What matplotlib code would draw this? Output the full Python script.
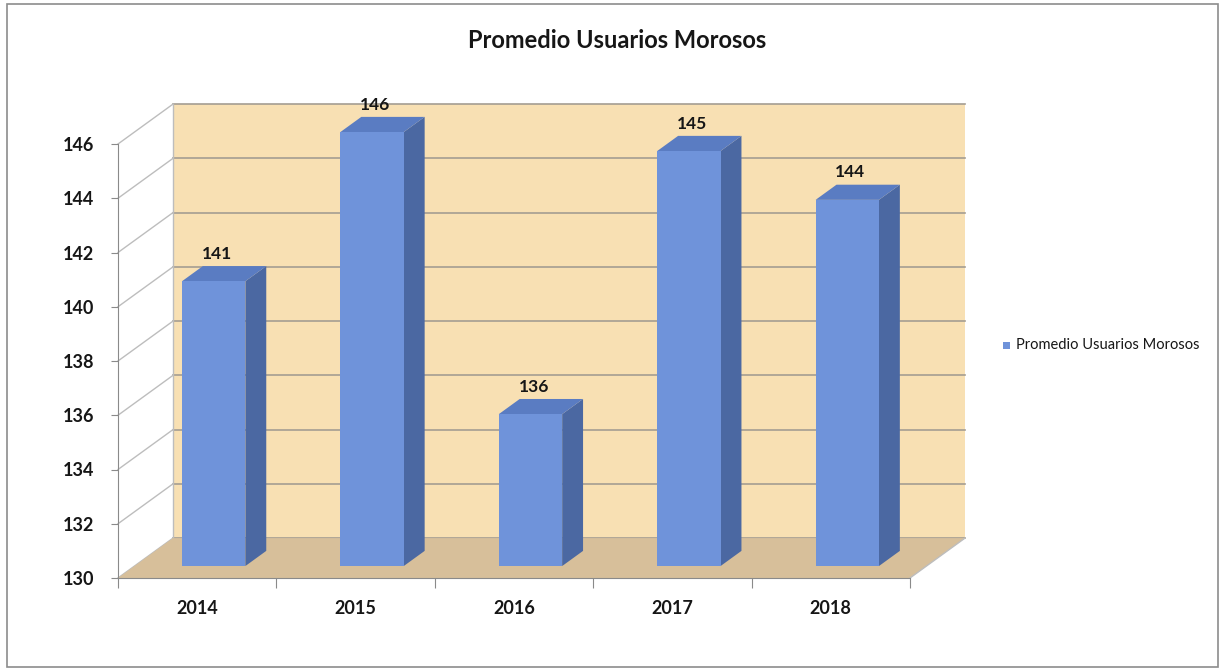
import numpy as np
import matplotlib
matplotlib.use("Agg")
import matplotlib.pyplot as plt
from matplotlib.patches import Polygon, Rectangle

# Data
years = ['2014', '2015', '2016', '2017', '2018']
promedio = [140.5, 146.0, 135.6, 145.3, 143.5]
labels = ['141', '146', '136', '145', '144']
yticks = [130, 132, 134, 136, 138, 140, 142, 144, 146]

plt.rcParams['font.family'] = ['Lato', 'DejaVu Sans']

# colours
wall_col = '#f8e0b3'
floor_col = '#d7bf9a'
grid_col = '#a49d92'
front_col = '#6f93da'
top_col = '#5a7cc2'
side_col = '#4b68a2'
txt_col = '#161616'

# 3d depth offsets (in data units)
Dx = 0.347
Dy = 1.47
df, db = 0.30, 0.68
w = 0.40
ymin, ymax = yticks[0], yticks[-1]
xmin, xmax = -0.5, len(years) - 0.5

fig = plt.figure(figsize=(12.22, 6.71), dpi=100)
ax = fig.add_axes([118 / 1222, 1 - 578 / 671, 792 / 1222, 434 / 671])
ax.set_xlim(xmin, xmax)
ax.set_ylim(ymin, ymax)
ax.patch.set_visible(False)

# back wall
ax.add_patch(Polygon([(xmin + Dx, ymin + Dy), (xmax + Dx, ymin + Dy),
                      (xmax + Dx, ymax + Dy), (xmin + Dx, ymax + Dy)],
                     closed=True, facecolor=wall_col, edgecolor='none',
                     clip_on=False, zorder=1))
# floor
ax.add_patch(Polygon([(xmin, ymin), (xmax, ymin), (xmax + Dx, ymin + Dy),
                      (xmin + Dx, ymin + Dy)], closed=True,
                     facecolor=floor_col, edgecolor='none', clip_on=False, zorder=2))

# gridlines on back wall + side wall diagonals
for t in yticks:
    ax.plot([xmin + Dx, xmax + Dx], [t + Dy, t + Dy], color=grid_col, lw=1.2,
            clip_on=False, zorder=1.5)
    ax.plot([xmin, xmin + Dx], [t, t + Dy], color='#bdbdbd', lw=1.0,
            clip_on=False, zorder=1.5)
ax.plot([xmin + Dx, xmin + Dx], [ymin + Dy, ymax + Dy], color='#bdbdbd', lw=1.0,
        clip_on=False, zorder=1.5)
ax.plot([xmax, xmax + Dx], [ymin, ymin + Dy], color='#bdbdbd', lw=1.0,
        clip_on=False, zorder=2.5)

# bars
xs = np.arange(len(years))
for i, v in enumerate(promedio):
    xc = xs[i] + df * Dx
    b = ymin + df * Dy
    top = v + df * Dy
    ddx = (db - df) * Dx
    ddy = (db - df) * Dy
    ax.bar(xc, v - ymin, width=w, bottom=b, color=front_col, zorder=5, clip_on=False)
    ax.add_patch(Polygon([(xc + w / 2, b), (xc + w / 2 + ddx, b + ddy),
                          (xc + w / 2 + ddx, top + ddy), (xc + w / 2, top)],
                         closed=True, facecolor=side_col, edgecolor='none',
                         zorder=4, clip_on=False))
    ax.add_patch(Polygon([(xc - w / 2, top), (xc + w / 2, top),
                          (xc + w / 2 + ddx, top + ddy), (xc - w / 2 + ddx, top + ddy)],
                         closed=True, facecolor=top_col, edgecolor='none',
                         zorder=4, clip_on=False))
    ax.text(xc + 0.02, top + ddy + 0.45, labels[i], ha='center', va='center',
            fontsize=12.5, fontweight='bold', color=txt_col, zorder=6, clip_on=False)

# axes
for s in ['top', 'right']:
    ax.spines[s].set_visible(False)
ax.spines['left'].set_color('#8a8a8a')
ax.spines['bottom'].set_color('#8a8a8a')
ax.spines['left'].set_zorder(3)
ax.spines['bottom'].set_zorder(3)
ax.set_yticks(yticks)
ax.set_yticklabels([str(t) for t in yticks], fontsize=13, fontweight='bold', color=txt_col)
ax.tick_params(axis='y', length=5, color='#8a8a8a', pad=12)
ax.set_xticks(np.arange(len(years) + 1) - 0.5)
ax.set_xticklabels([])
ax.tick_params(axis='x', which='major', length=7, color='#8a8a8a', direction='out')
ax.set_xticks(xs, minor=True)
ax.set_xticklabels(years, minor=True, fontsize=13, fontweight='bold', color=txt_col)
ax.tick_params(axis='x', which='minor', length=0, pad=16)

# title and legend
fig.text(617 / 1222, 1 - 40 / 671, 'Promedio Usuarios Morosos', ha='center', va='center',
         fontsize=17, fontweight='bold', color=txt_col)
fig.patches.append(Rectangle((1003 / 1222, 1 - 349 / 671), 7 / 1222, 7 / 671,
                             transform=fig.transFigure, facecolor=front_col,
                             edgecolor='none'))
fig.text(1016 / 1222, 1 - 345 / 671, 'Promedio Usuarios Morosos', ha='left', va='center',
         fontsize=10.5, color=txt_col)

# outer frame
fig.patches.append(Rectangle((7 / 1222, 4 / 671), 1211 / 1222, 663 / 671,
                             transform=fig.transFigure, facecolor='none',
                             edgecolor='#8c8c8c', lw=1.2))

fig.savefig('out.png', dpi=100)
